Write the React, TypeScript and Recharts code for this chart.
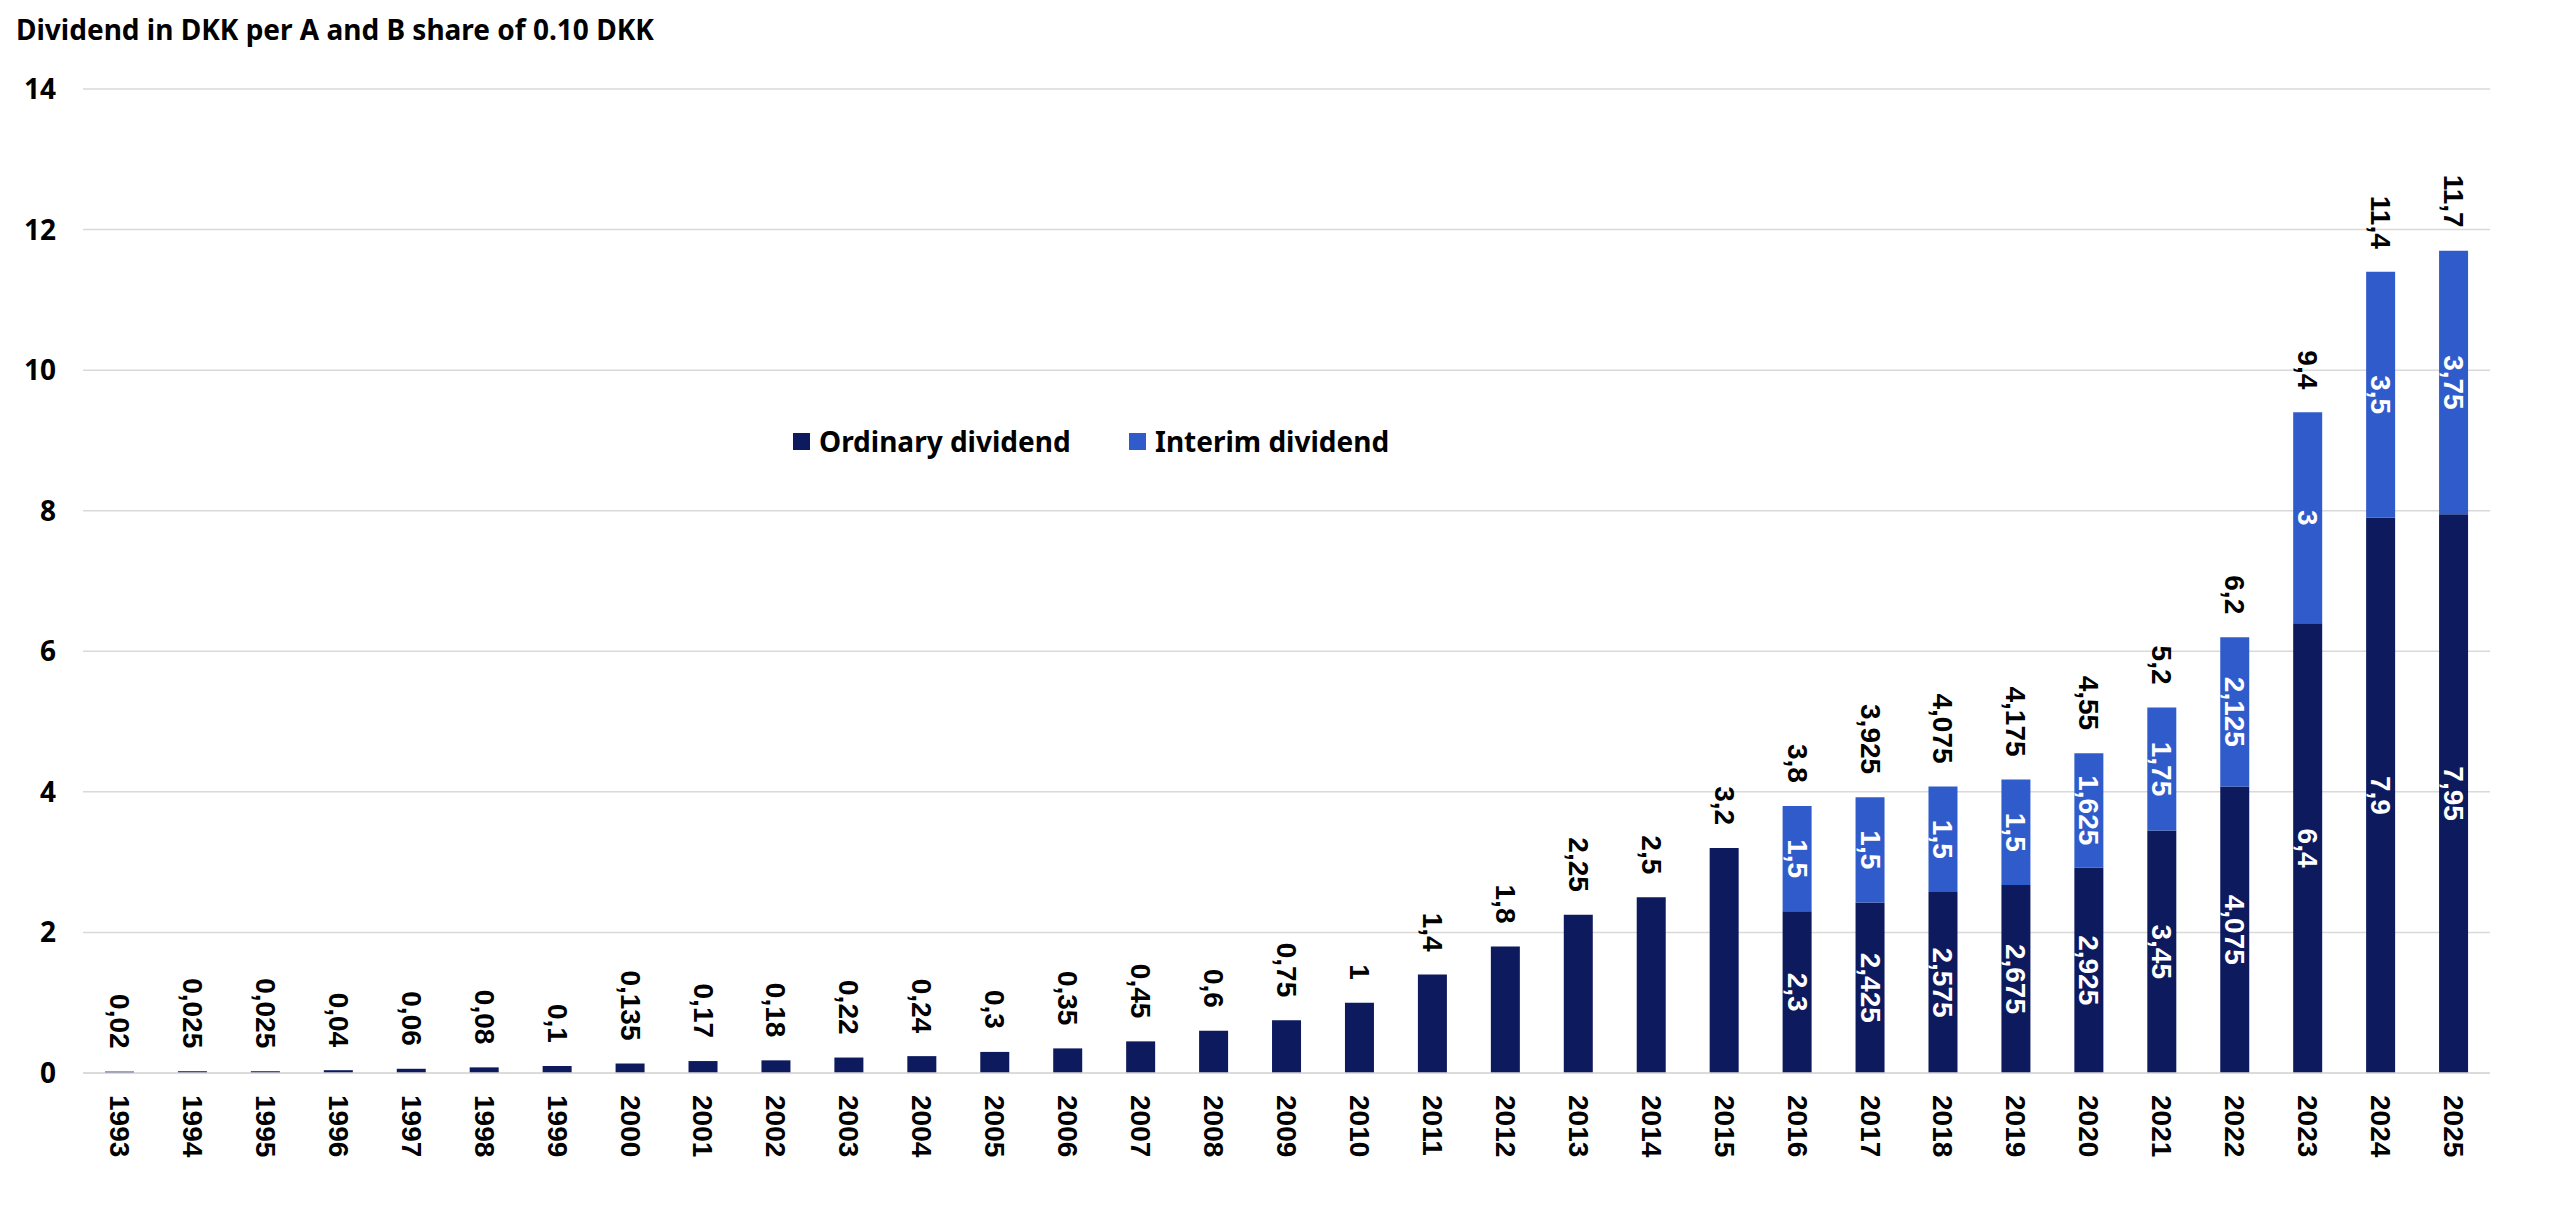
import React from 'react';
import { BarChart, Bar, XAxis, YAxis, CartesianGrid, LabelList } from 'recharts';

const years = [
  1993, 1994, 1995, 1996, 1997, 1998, 1999, 2000, 2001, 2002, 2003, 2004, 2005, 2006, 2007, 2008, 2009,
  2010, 2011, 2012, 2013, 2014, 2015, 2016, 2017, 2018, 2019, 2020, 2021, 2022, 2023, 2024, 2025,
];

const ordinary = [
  0.02, 0.025, 0.025, 0.04, 0.06, 0.08, 0.1, 0.135, 0.17, 0.18, 0.22, 0.24, 0.3, 0.35, 0.45, 0.6, 0.75,
  1, 1.4, 1.8, 2.25, 2.5, 3.2, 2.3, 2.425, 2.575, 2.675, 2.925, 3.45, 4.075, 6.4, 7.9, 7.95,
];

const interim = [
  0, 0, 0, 0, 0, 0, 0, 0, 0, 0, 0, 0, 0, 0, 0, 0, 0,
  0, 0, 0, 0, 0, 0, 1.5, 1.5, 1.5, 1.5, 1.625, 1.75, 2.125, 3, 3.5, 3.75,
];

const totals = [
  0.02, 0.025, 0.025, 0.04, 0.06, 0.08, 0.1, 0.135, 0.17, 0.18, 0.22, 0.24, 0.3, 0.35, 0.45, 0.6, 0.75,
  1, 1.4, 1.8, 2.25, 2.5, 3.2, 3.8, 3.925, 4.075, 4.175, 4.55, 5.2, 6.2, 9.4, 11.4, 11.7,
];

const yTicks = [0, 2, 4, 6, 8, 10, 12, 14];

const data = years.map((year, i) => ({
  year,
  ordinary: ordinary[i],
  interim: interim[i],
  total: totals[i],
}));

const NAVY = '#0d1a5e';
const BLUE = '#305ccb';
const GRID = '#d9d9d9';
const LABEL_FONT = '"Liberation Sans", Arial, sans-serif';
const TEXT_FONT = '"Noto Sans", sans-serif';

const fmt = (v: number) => String(v).replace('.', ',');

function rowFor(year: any) {
  return data.find((d) => d.year === Number(year));
}

function TopLabel({ cx, top, value }: { cx: number; top: number; value: number }) {
  const y = top - 23;
  return (
    <text
      x={cx}
      y={y}
      transform={`rotate(90, ${cx}, ${y})`}
      textAnchor="end"
      dominantBaseline="central"
      fontFamily={LABEL_FONT}
      fontWeight={700}
      fontSize={28}
      fill="#000"
    >
      {fmt(value)}
    </text>
  );
}

function InsideLabel({ cx, cy, value }: { cx: number; cy: number; value: number }) {
  return (
    <text
      x={cx}
      y={cy}
      transform={`rotate(90, ${cx}, ${cy})`}
      textAnchor="middle"
      dominantBaseline="central"
      fontFamily={LABEL_FONT}
      fontWeight={700}
      fontSize={28}
      fill="#fff"
    >
      {fmt(value)}
    </text>
  );
}

function box(props: any) {
  const vb = props.viewBox || {};
  const x = Number(props.x ?? vb.x);
  const y = Number(props.y ?? vb.y);
  const width = Number(props.width ?? vb.width);
  const height = Number(props.height ?? vb.height);
  return { x, y, width, height };
}

const renderOrdinary = (props: any) => {
  const row = rowFor(props.value);
  if (!row) return null;
  const { x, y, width, height } = box(props);
  const cx = x + width / 2;
  if (row.interim === 0) {
    return <TopLabel cx={cx} top={y} value={row.total} />;
  }
  return <InsideLabel cx={cx} cy={y + height / 2} value={row.ordinary} />;
};

const renderInterim = (props: any) => {
  const row = rowFor(props.value);
  if (!row || row.interim === 0) return null;
  const { x, y, width, height } = box(props);
  const cx = x + width / 2;
  return (
    <g>
      <InsideLabel cx={cx} cy={y + height / 2} value={row.interim} />
      <TopLabel cx={cx} top={y} value={row.total} />
    </g>
  );
};

const YearTick = (props: any) => {
  const { x, y, payload } = props;
  return (
    <text
      x={x}
      y={y}
      transform={`rotate(90, ${x}, ${y})`}
      textAnchor="start"
      dominantBaseline="central"
      fontFamily={LABEL_FONT}
      fontWeight={700}
      fontSize={28}
      fill="#000"
    >
      {payload.value}
    </text>
  );
};

const legendItems = [
  { name: 'Ordinary dividend', color: NAVY, left: 793 },
  { name: 'Interim dividend', color: BLUE, left: 1129 },
];

export default function App() {
  return (
    <div style={{ position: 'absolute', left: 0, top: 0, width: 2560, height: 1208, background: '#fff' }}>
      <div
        style={{
          position: 'absolute',
          left: 16,
          top: 9,
          fontFamily: TEXT_FONT,
          fontWeight: 700,
          fontSize: 28,
          lineHeight: '40px',
          color: '#000',
          whiteSpace: 'nowrap',
        }}
      >
        Dividend in DKK per A and B share of 0.10 DKK
      </div>
      {legendItems.map((it) => (
        <div
          key={it.name}
          style={{
            position: 'absolute',
            left: it.left,
            top: 421,
            height: 40,
            display: 'flex',
            alignItems: 'center',
            fontFamily: TEXT_FONT,
            fontWeight: 700,
            fontSize: 28,
            color: '#000',
            whiteSpace: 'nowrap',
          }}
        >
          <span style={{ display: 'inline-block', width: 17, height: 17, background: it.color, marginRight: 9 }} />
          {it.name}
        </div>
      ))}
      <BarChart
        width={2560}
        height={1208}
        data={data}
        margin={{ top: 89, right: 70, bottom: 0, left: 0 }}
        barSize={29}
      >
        <CartesianGrid vertical={false} stroke={GRID} strokeWidth={1.5} />
        <XAxis
          dataKey="year"
          height={135}
          interval={0}
          axisLine={{ stroke: GRID, strokeWidth: 1.5 }}
          tickLine={false}
          tickSize={0}
          tickMargin={22}
          tick={<YearTick />}
        />
        <YAxis
          width={83}
          domain={[0, 14]}
          ticks={yTicks}
          axisLine={false}
          tickLine={false}
          tickSize={0}
          tickMargin={27}
          tick={{ fontFamily: TEXT_FONT, fontWeight: 700, fontSize: 28, fill: '#000' }}
        />
        <Bar dataKey="ordinary" stackId="d" fill={NAVY} isAnimationActive={false}>
          <LabelList dataKey="year" content={renderOrdinary} />
        </Bar>
        <Bar dataKey="interim" stackId="d" fill={BLUE} isAnimationActive={false}>
          <LabelList dataKey="year" content={renderInterim} />
        </Bar>
      </BarChart>
    </div>
  );
}
